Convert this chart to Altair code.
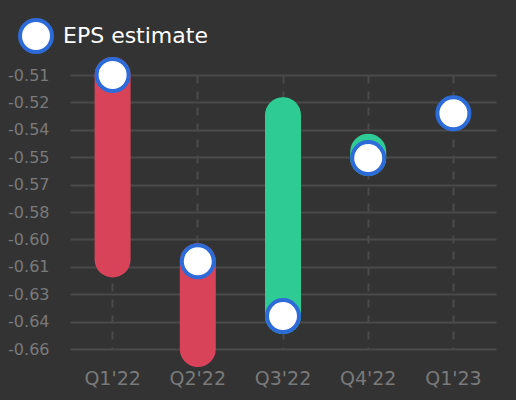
import altair as alt
import pandas as pd
import numpy as np

quarters = ["Q1'22", "Q2'22", "Q3'22", "Q4'22", "Q1'23"]
eps_estimate = [-0.510, -0.612, -0.642, -0.5555, -0.531]
eps_actual = [-0.611, -0.660, -0.532, -0.552, None]
tick_labels = ["-0.51", "-0.52", "-0.54", "-0.55", "-0.57", "-0.58",
               "-0.60", "-0.61", "-0.63", "-0.64", "-0.66"]

BG = "#333333"
GRID = "#4a4a4a"
LABEL = "#7a7a7a"
RED = "#d9435a"
GREEN = "#2ecc94"
BLUE = "#2d6bd8"

rows = []
for q, e, a in zip(quarters, eps_estimate, eps_actual):
    rows.append({
        "quarter": q,
        "estimate": e,
        "actual": a,
        "result": None if a is None else ("beat" if a >= e else "miss"),
        "series": "EPS estimate",
    })
df = pd.DataFrame(rows)

vals = [v for v in eps_estimate + eps_actual if v is not None]
ymin, ymax = min(vals), max(vals)
tick_values = list(np.linspace(ymax, ymin, len(tick_labels)))
step = (ymax - ymin) / (len(tick_labels) - 1)
label_expr = "[" + ",".join("'%s'" % t for t in tick_labels) + "][round((%f - datum.value)/%f)]" % (ymax, step)

x_enc = alt.X(
    "quarter:N",
    sort=quarters,
    scale=alt.Scale(paddingInner=0, paddingOuter=0),
    axis=alt.Axis(
        title=None, domain=False, ticks=False, grid=True,
        gridDash=[8, 8], gridColor=GRID, gridWidth=2, bandPosition=0.5,
        labelColor=LABEL, labelFontSize=19, labelPadding=20, labelAngle=0,
        labelFont="DejaVu Sans",
    ),
)
y_scale = alt.Scale(domain=[ymin, ymax], nice=False, zero=False)
y_axis = alt.Axis(
    title=None, domain=False, ticks=False, grid=True,
    gridColor=GRID, gridWidth=2, values=tick_values, labelExpr=label_expr,
    labelColor=LABEL, labelFontSize=16, labelPadding=21, labelFont="DejaVu Sans",
)

base = alt.Chart(df)

bars = base.transform_filter("isValid(datum.actual)").mark_rule(
    strokeWidth=36, strokeCap="round"
).encode(
    x=x_enc,
    y=alt.Y("actual:Q", scale=y_scale, axis=y_axis),
    y2="estimate:Q",
    color=alt.Color("result:N", scale=alt.Scale(domain=["beat", "miss"], range=[GREEN, RED]), legend=None),
)

points = base.mark_point(
    shape="circle", filled=True, size=1024, stroke=BLUE, strokeWidth=4, opacity=1
).encode(
    x=x_enc,
    y=alt.Y("estimate:Q", scale=y_scale, axis=y_axis),
    fill=alt.Fill(
        "series:N",
        scale=alt.Scale(domain=["EPS estimate"], range=["#ffffff"]),
        legend=alt.Legend(
            title=None, orient="none", legendX=-52, legendY=-57,
            symbolType="circle", symbolSize=1024, symbolStrokeColor=BLUE,
            symbolStrokeWidth=4, symbolFillColor="#ffffff", symbolOpacity=1,
            labelFontSize=22, labelColor="#ffffff", labelFont="DejaVu Sans",
            labelOffset=9, padding=0,
        ),
    ),
)

chart = alt.layer(bars, points).properties(
    width=426, height=274,
    background=BG,
    padding={"left": 70, "top": 75, "right": 20, "bottom": 51},
    autosize=alt.AutoSizeParams(type="none"),
).configure_view(stroke=None)

chart.save("out.html", embed_options={"renderer": "svg", "actions": False})
